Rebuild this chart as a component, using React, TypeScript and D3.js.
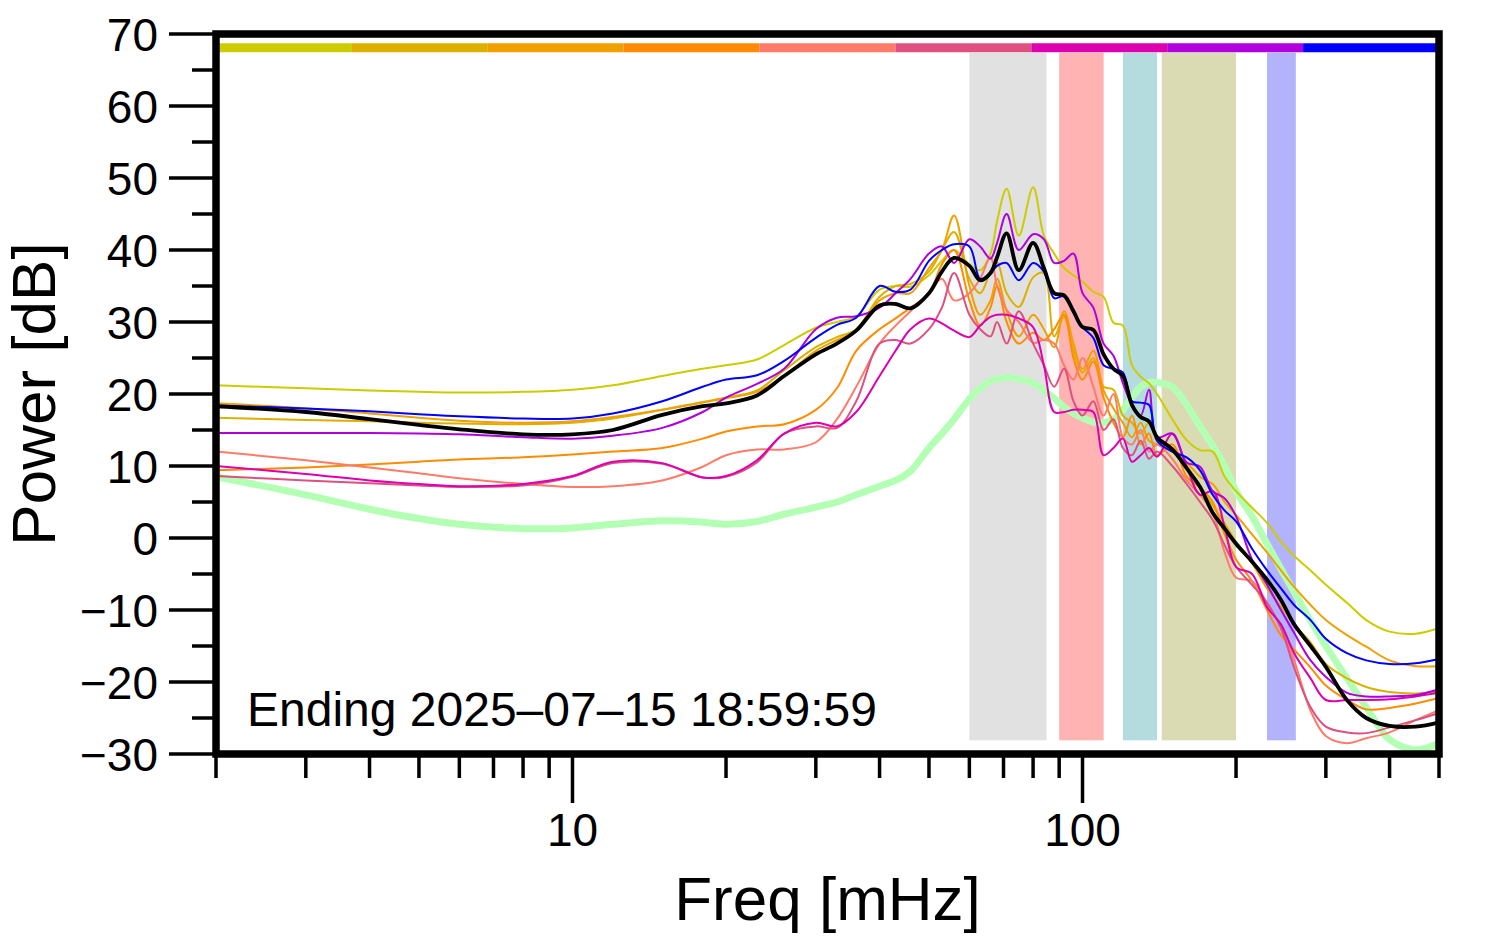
import * as d3 from "d3";

// frequency grid (mHz) shared by every spectrum
const freqs = [2, 3, 4, 5, 6, 8, 10, 12, 15, 18, 20, 23, 26, 30, 33, 36, 40, 43, 46, 50, 53, 56, 60, 63, 66, 68, 71, 75, 80, 84, 88, 92, 96, 100, 105, 110, 115, 120, 125, 130, 135, 140, 150, 160, 170, 180, 190, 200, 215, 230, 245, 260, 280, 300, 330, 360, 400, 450, 500];

// hourly spectra (dB), in legend order
const psdA = [21.2, 20.8, 20.5, 20.3, 20.2, 20.3, 20.6, 21.2, 22.5, 23.5, 24.0, 24.8, 26.8, 29.2, 30.0, 30.8, 34.5, 35.0, 34.9, 36.5, 38.5, 40.0, 38.0, 37.2, 39.5, 44.0, 48.5, 42.0, 48.7, 42.0, 39.5, 37.5, 36.5, 35.6, 34.2, 33.5, 29.9, 29.5, 24.0, 22.4, 21.5, 20.0, 16.5, 13.6, 12.2, 12.0, 8.5, 6.5, 4.2, 2.1, -0.5, -2.5, -4.5, -6.5, -9.0, -11.4, -13.0, -13.3, -12.5];
const psdB = [16.7, 16.4, 16.2, 16.0, 15.9, 15.8, 16.0, 16.6, 17.8, 18.9, 19.5, 20.5, 23.3, 26.5, 27.9, 29.0, 33.5, 35.0, 35.3, 37.0, 40.0, 42.5, 36.0, 34.0, 37.0, 38.3, 34.0, 32.1, 36.2, 36.8, 28.0, 30.7, 26.0, 23.0, 25.0, 21.0, 20.6, 17.0, 16.0, 14.5, 16.0, 13.5, 12.5, 10.0, 7.0, 4.5, 2.0, -0.5, -3.5, -7.0, -9.5, -12.0, -14.5, -17.5, -19.5, -20.7, -21.4, -21.6, -21.3];
const psdC = [18.7, 18.0, 17.3, 16.7, 16.3, 16.0, 16.2, 16.8, 17.8, 18.8, 19.4, 20.3, 22.5, 26.0, 27.5, 28.8, 33.0, 34.0, 34.0, 37.5, 40.0, 44.8, 35.0, 31.0, 33.0, 36.0, 31.5, 28.0, 31.0, 29.0, 26.5, 31.5, 27.0, 23.5, 26.0, 20.5, 18.0, 16.0, 14.0, 16.0, 13.5, 13.0, 12.0, 10.5, 8.5, 7.5, 5.0, 3.2, 0.5, -2.0, -4.5, -6.8, -9.3, -11.4, -13.5, -15.1, -17.0, -17.8, -17.8];
const psdD = [9.4, 9.8, 10.2, 10.6, 10.9, 11.2, 11.6, 12.0, 12.5, 13.8, 14.8, 15.5, 15.8, 17.8, 20.8, 26.0, 29.0, 30.5, 32.0, 34.0, 38.0, 40.0, 33.0, 29.5, 32.0, 35.0, 30.0, 27.0, 28.5, 27.5, 29.0, 31.0, 25.0, 22.0, 24.5, 19.5, 16.0, 14.0, 17.0, 13.0, 14.5, 11.5, 13.0, 8.5, 7.0, 5.0, 0.5, -3.0, -6.0, -10.0, -13.5, -15.5, -18.0, -20.5, -22.5, -23.8, -23.6, -23.0, -22.2];
const psdE = [12.0, 10.8, 9.8, 9.0, 8.3, 7.5, 7.1, 7.2, 8.0, 9.9, 11.5, 12.3, 12.3, 13.3, 16.5, 21.0, 27.0, 29.5, 31.5, 34.0, 36.0, 33.0, 34.0, 36.0, 39.0, 35.0, 31.7, 30.0, 27.1, 27.5, 27.0, 24.0, 22.0, 25.0, 21.0, 17.0, 20.0, 14.0, 13.0, 15.0, 12.0, 13.0, 11.0, 8.0, 6.0, 3.5, -2.0, -5.5, -6.0, -9.0, -12.5, -17.0, -24.0, -27.5, -28.5, -27.8, -27.0, -25.3, -23.9];
const psdF = [8.6, 8.0, 7.6, 7.3, 7.1, 7.3, 8.5, 10.4, 10.3, 8.4, 8.5, 10.5, 14.5, 15.5, 15.3, 19.0, 27.0, 27.5, 27.0, 29.0, 32.0, 36.8, 31.0, 29.0, 28.0, 30.0, 27.0, 31.5, 27.0, 24.0, 21.0, 23.5, 19.0, 17.0, 19.0, 15.0, 16.5, 12.5, 11.5, 13.5, 11.0, 12.0, 10.0, 7.5, 5.0, 2.5, -1.0, -4.0, -6.5, -9.0, -12.5, -18.0, -23.5, -26.2, -27.0, -27.1, -26.3, -25.3, -24.3];
const psdG = [10.0, 8.9, 8.0, 7.5, 7.2, 7.5, 8.6, 10.6, 10.4, 8.4, 8.6, 10.8, 14.5, 16.0, 15.5, 17.5, 22.5, 26.0, 29.0, 30.5, 29.8, 28.8, 27.9, 29.5, 30.7, 31.0, 31.0, 30.5, 29.3, 24.0, 17.5, 17.5, 17.8, 17.8, 17.5, 11.5, 12.5, 13.8, 10.6, 11.5, 12.5, 11.3, 14.5, 9.9, 6.0, 6.5, 1.5, -4.0, -5.0, -9.6, -12.0, -16.0, -19.5, -22.5, -22.5, -22.5, -22.4, -22.0, -21.5];
const psdH = [14.6, 14.6, 14.6, 14.5, 14.4, 14.0, 13.8, 14.2, 15.3, 17.5, 19.5, 21.4, 23.5, 29.0, 30.6, 30.8, 32.0, 34.0, 36.0, 39.5, 40.5, 38.2, 41.5, 40.5, 38.8, 41.0, 45.0, 40.0, 42.2, 41.5, 38.2, 38.5, 39.5, 34.0, 32.0, 27.0, 25.3, 21.5, 18.5, 17.0, 20.6, 14.0, 14.5, 10.5, 9.9, 6.5, 5.5, 3.0, -3.0, -6.5, -10.0, -13.2, -17.0, -19.3, -21.5, -22.0, -22.0, -21.8, -21.0];
const psdI = [18.4, 18.0, 17.6, 17.2, 16.9, 16.6, 16.6, 17.3, 19.0, 21.0, 22.0, 22.6, 24.6, 27.8, 29.6, 30.6, 35.0, 34.2, 34.5, 38.5, 40.0, 40.8, 40.5, 36.0, 36.8, 37.8, 38.2, 35.8, 38.2, 37.0, 33.3, 33.6, 31.5, 29.3, 27.8, 24.0, 23.5, 23.0, 19.0, 18.8, 18.5, 13.5, 12.0, 11.2, 9.4, 6.0, 3.8, 2.3, -1.5, -4.5, -7.0, -9.3, -11.4, -14.0, -16.0, -17.0, -17.5, -17.4, -16.8];

// mean of the hourly spectra and the reference noise model
const meanPsd = [18.3, 17.5, 16.5, 15.7, 15.1, 14.4, 14.4, 15.0, 17.1, 18.3, 18.7, 19.8, 22.5, 25.5, 27.0, 28.8, 32.3, 32.5, 31.9, 34.0, 37.0, 38.9, 37.8, 35.8, 36.8, 39.0, 42.3, 37.2, 41.0, 37.5, 34.0, 33.7, 31.5, 29.3, 28.9, 25.5, 23.5, 22.5, 18.5, 16.8, 16.2, 14.0, 12.3, 9.7, 7.1, 3.5, 1.3, -0.8, -3.3, -5.8, -8.6, -12.0, -15.0, -17.9, -22.5, -25.0, -26.1, -26.2, -25.6];
const noiseModel = [8.5, 6.0, 4.0, 2.7, 1.9, 1.3, 1.4, 1.9, 2.4, 2.2, 1.9, 2.3, 3.3, 4.3, 5.0, 6.0, 7.2, 8.0, 9.3, 12.5, 14.5, 16.5, 19.3, 20.8, 21.8, 22.1, 22.3, 22.1, 21.5, 20.5, 19.4, 18.2, 17.3, 16.7, 16.1, 16.0, 16.5, 17.8, 19.5, 21.0, 21.6, 21.6, 21.0, 18.5, 15.5, 12.8, 10.0, 6.5, 3.0, -0.8, -4.3, -7.5, -11.5, -15.0, -19.5, -23.5, -28.0, -29.4, -28.5];

const hourly = [psdA, psdB, psdC, psdD, psdE, psdF, psdG, psdH, psdI];
const hourlyColors = ["#cccc00", "#ddb000", "#f0a000", "#ff8c00", "#ff7b69", "#dd5080", "#dd00b0", "#b000dd", "#0000ff"];

// shaded frequency bands (mHz)
const bandLo = [60, 90, 120, 143, 230];
const bandHi = [85, 110, 140, 200, 262];
const bandColors = ["#e1e1e1", "#ffb3b3", "#b4dcdf", "#dadbb3", "#b3b3fb"];
const bandDb = [-28.1, 67.4];
const legendDb = 68.1;

const FONT = '"Liberation Sans", Arial, Helvetica, sans-serif';

export default function App() {
    const width = 1494;
    const height = 952;
    const plot = { left: 216, right: 1439, top: 34, bottom: 754 };

    const x = d3.scaleLog().domain([2, 500]).range([plot.left, plot.right]);
    const y = d3.scaleLinear().domain([-30, 70]).range([plot.bottom, plot.top]);
    const legendX = d3
        .scaleBand<number>()
        .domain(d3.range(hourlyColors.length))
        .range([plot.left, plot.right]);

    const path = (vals: number[]) =>
        d3
            .line<number>()
            .x((_, i) => x(freqs[i]))
            .y((d) => y(d))
            .curve(d3.curveCatmullRom.alpha(0.5))(vals) || undefined;

    const xTicks = x.ticks();
    const yTicks = d3.range(-30, 71, 5);
    const fmt = d3.format("d");

    return (
        <svg
            width={width}
            height={height}
            style={{ position: "absolute", left: 0, top: 0, display: "block", background: "#fff" }}
            fontFamily={FONT}
        >
            {bandLo.map((lo, i) => (
                <rect
                    key={`band-${i}`}
                    x={x(lo)}
                    width={x(bandHi[i]) - x(lo)}
                    y={y(bandDb[1])}
                    height={y(bandDb[0]) - y(bandDb[1])}
                    fill={bandColors[i]}
                />
            ))}

            <path d={path(noiseModel)} fill="none" stroke="#b3ffb3" strokeWidth={7} />
            {hourly.map((vals, i) => (
                <path key={`psd-${i}`} d={path(vals)} fill="none" stroke={hourlyColors[i]} strokeWidth={2} />
            ))}
            <path d={path(meanPsd)} fill="none" stroke="#000" strokeWidth={3.8} />

            {hourlyColors.map((c, i) => (
                <line
                    key={`leg-${i}`}
                    x1={legendX(i)}
                    x2={(legendX(i) || 0) + legendX.bandwidth()}
                    y1={y(legendDb)}
                    y2={y(legendDb)}
                    stroke={c}
                    strokeWidth={9}
                />
            ))}

            <text x={247} y={726} fontSize={48}>
                Ending 2025–07–15 18:59:59
            </text>

            {yTicks.map((t) => (
                <line
                    key={`yt-${t}`}
                    x1={plot.left}
                    x2={t % 10 === 0 ? 169 : 192}
                    y1={y(t)}
                    y2={y(t)}
                    stroke="#000"
                    strokeWidth={3.5}
                />
            ))}
            {yTicks
                .filter((t) => t % 10 === 0)
                .map((t) => (
                    <text key={`yl-${t}`} x={158} y={y(t)} dy="0.36em" textAnchor="end" fontSize={46}>
                        {fmt(t)}
                    </text>
                ))}

            {xTicks.map((t) => {
                const major = Number.isInteger(Math.log10(t));
                return (
                    <line
                        key={`xt-${t}`}
                        x1={x(t)}
                        x2={x(t)}
                        y1={plot.bottom}
                        y2={major ? 803 : 778}
                        stroke="#000"
                        strokeWidth={3.5}
                    />
                );
            })}
            {xTicks
                .filter((t) => Number.isInteger(Math.log10(t)))
                .map((t) => (
                    <text key={`xl-${t}`} x={x(t)} y={846} textAnchor="middle" fontSize={46}>
                        {fmt(t)}
                    </text>
                ))}

            <rect
                x={plot.left}
                y={plot.top}
                width={plot.right - plot.left}
                height={plot.bottom - plot.top}
                fill="none"
                stroke="#000"
                strokeWidth={7.5}
            />

            <text x={(plot.left + plot.right) / 2} y={920} textAnchor="middle" fontSize={62}>
                Freq [mHz]
            </text>
            <text
                transform={`translate(55, ${(plot.top + plot.bottom) / 2}) rotate(-90)`}
                textAnchor="middle"
                fontSize={62}
            >
                Power [dB]
            </text>
        </svg>
    );
}
